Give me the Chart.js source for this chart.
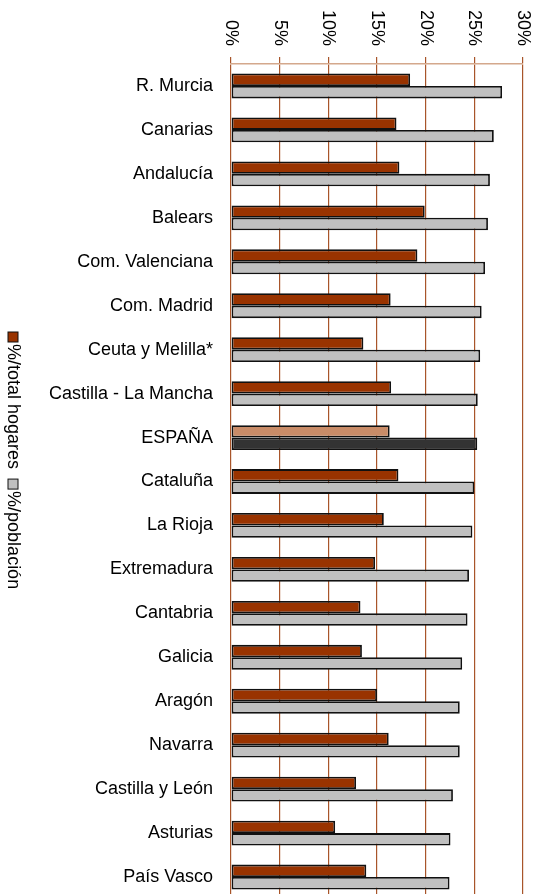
<!DOCTYPE html>
<html>
<head>
<meta charset="utf-8">
<script src="https://cdn.jsdelivr.net/npm/chart.js@4/dist/chart.umd.min.js"></script>
<style>
  html, body { margin: 0; padding: 0; background: #fff; overflow: hidden; }
  canvas { display: block; }
</style>
</head>
<body>
<canvas id="myChart" width="539" height="902"></canvas>
<script>
// datos
const categories = [
  "R. Murcia", "Canarias", "Andalucía", "Balears", "Com. Valenciana",
  "Com. Madrid", "Ceuta y Melilla*", "Castilla - La Mancha", "ESPAÑA", "Cataluña",
  "La Rioja", "Extremadura", "Cantabria", "Galicia", "Aragón",
  "Navarra", "Castilla y León", "Asturias", "País Vasco",
];
const hogares = [
  18.4, 17.0, 17.3, 19.9, 19.15, 16.4, 13.6, 16.45, 16.3, 17.2,
  15.7, 14.8, 13.3, 13.45, 15.0, 16.2, 12.85, 10.7, 13.9,
];
const poblacion = [
  27.85, 27.0, 26.6, 26.4, 26.1, 25.75, 25.6, 25.35, 25.3, 25.0,
  24.8, 24.45, 24.3, 23.75, 23.5, 23.5, 22.8, 22.55, 22.45,
];
const seriesLabels = ["%/total hogares", "%/población"];
const xTicks = [0, 5, 10, 15, 20, 25, 30];

const FONT = '"Liberation Sans", Arial, sans-serif';
const brown = "#993300";
const grey = "#C0C0C0";
const gridColor = "#A8552A";

// ESPAÑA lleva otros colores
const colHog = categories.map((c) => (c === "ESPAÑA" ? "#C98C68" : brown));
const colPob = categories.map((c) => (c === "ESPAÑA" ? "#333333" : grey));

// etiquetas del eje x giradas y leyenda vertical
const rotatedText = {
  id: "rotatedText",
  afterDraw(chart) {
    const ctx = chart.ctx;
    const xs = chart.scales.x;
    ctx.save();
    ctx.fillStyle = "#000";
    ctx.font = "18px " + FONT;
    ctx.textAlign = "right";
    ctx.textBaseline = "middle";
    xTicks.forEach((v) => {
      ctx.save();
      ctx.translate(xs.getPixelForValue(v), 46);
      ctx.rotate(Math.PI / 2);
      ctx.fillText(v + "%", 0, 0);
      ctx.restore();
    });

    // leyenda
    const lx = 13;
    let ly = 332;
    const fills = [brown, grey];
    ctx.textAlign = "left";
    seriesLabels.forEach((lab, i) => {
      ctx.fillStyle = fills[i];
      ctx.strokeStyle = "#111";
      ctx.lineWidth = 1;
      ctx.fillRect(lx - 5, ly, 10, 10);
      ctx.strokeRect(lx - 5, ly, 10, 10);
      ctx.save();
      ctx.translate(lx, ly + 12);
      ctx.rotate(Math.PI / 2);
      ctx.fillStyle = "#000";
      ctx.fillText(lab, 0, 0);
      const w = ctx.measureText(lab).width;
      ctx.restore();
      ly += 12 + w + 10;
    });
    ctx.restore();
  },
};

const ctx = document.getElementById("myChart").getContext("2d");
new Chart(ctx, {
  type: "bar",
  data: {
    labels: categories,
    datasets: [
      {
        label: seriesLabels[0],
        data: hogares,
        backgroundColor: colHog,
        borderColor: "#111",
        borderWidth: 1.8,
        borderSkipped: false,
      },
      {
        label: seriesLabels[1],
        data: poblacion,
        backgroundColor: colPob,
        borderColor: "#111",
        borderWidth: 1.8,
        borderSkipped: false,
      },
    ],
  },
  options: {
    indexAxis: "y",
    responsive: false,
    animation: false,
    layout: { padding: { top: 0, right: 16, bottom: 3, left: 0 } },
    datasets: {
      bar: { categoryPercentage: 0.565, barPercentage: 1.0 },
    },
    scales: {
      x: {
        position: "top",
        min: 0,
        max: 30,
        ticks: { display: false, stepSize: 5 },
        grid: { color: gridColor, lineWidth: 1.2, drawTicks: true, tickLength: 7 },
        border: { display: true, color: "#D4A88C", width: 1.5 },
        afterFit: (s) => { s.height = 64; },
      },
      y: {
        grid: { display: false, drawTicks: false },
        border: { display: false },
        ticks: {
          color: "#000",
          padding: 18,
          font: { family: FONT, size: 18 },
        },
        afterFit: (s) => {
          s.width = 231;
          s.paddingTop = 0;
          s.paddingBottom = 0;
        },
      },
    },
    plugins: {
      legend: { display: false },
      tooltip: { enabled: false },
    },
  },
  plugins: [rotatedText],
});
</script>
</body>
</html>
